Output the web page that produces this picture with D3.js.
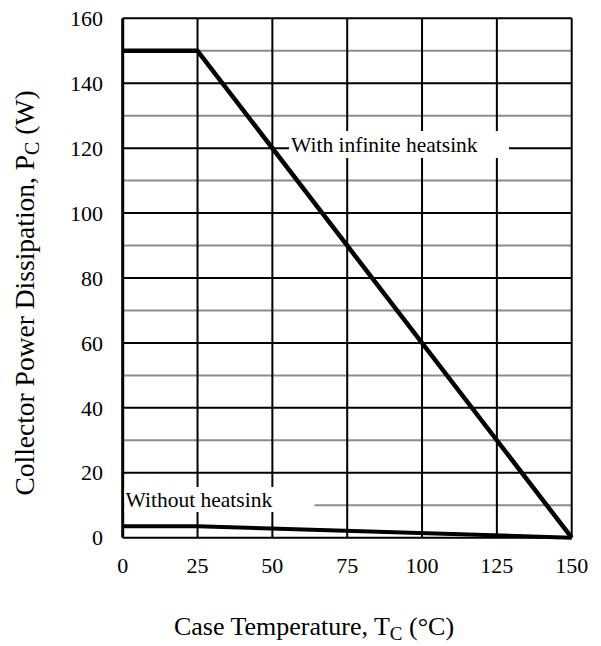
<!DOCTYPE html>
<html><head><meta charset="utf-8">
<script src="https://cdn.jsdelivr.net/npm/d3@7"></script>
<style>body{margin:0;background:#fff}text{font-family:"Liberation Serif","Times New Roman",serif;fill:#000}</style>
</head><body>
<svg id="c" width="601" height="646"></svg>
<script>
const xTicks = [0, 25, 50, 75, 100, 125, 150];
const yTicks = [0, 20, 40, 60, 80, 100, 120, 140, 160];
const yMinor = [10, 30, 50, 70, 90, 110, 130, 150];
const withSinkT = [0, 25, 150];
const withSinkP = [150, 150, 0];
const withoutSinkT = [0, 25, 150];
const withoutSinkP = [3.5, 3.5, 0];

const svg = d3.select("#c");
const x = d3.scaleLinear().domain([0,150]).range([122.7,571.7]);
const y = d3.scaleLinear().domain([0,160]).range([537.7,18.3]);
const g = svg.append("g");

g.selectAll(".mn").data(yMinor).join("line")
 .attr("x1",x(0)).attr("x2",x(150)).attr("y1",d=>y(d)).attr("y2",d=>y(d))
 .attr("stroke","#8c8c8c").attr("stroke-width",2);
g.selectAll(".mj").data(yTicks).join("line")
 .attr("x1",x(0)).attr("x2",x(150)).attr("y1",d=>y(d)).attr("y2",d=>y(d))
 .attr("stroke","#000").attr("stroke-width",2);
g.selectAll(".vt").data(xTicks).join("line")
 .attr("x1",d=>x(d)).attr("x2",d=>x(d)).attr("y1",y(0)).attr("y2",y(160))
 .attr("stroke","#000").attr("stroke-width",d=>d===0?3:2);

g.append("rect").attr("x",289).attr("y",131).attr("width",220).attr("height",27).attr("fill","#fff");
g.append("rect").attr("x",124.5).attr("y",487).attr("width",190).attr("height",25).attr("fill","#fff");

const line = d3.line().x(d=>x(d[0])).y(d=>y(d[1]));
g.append("path").datum(withSinkT.map((t,i)=>[t,withSinkP[i]])).attr("d",line)
 .attr("fill","none").attr("stroke","#000").attr("stroke-width",4.5).attr("stroke-linejoin","round");
g.append("path").datum(withoutSinkT.map((t,i)=>[t,withoutSinkP[i]])).attr("d",line)
 .attr("fill","none").attr("stroke","#000").attr("stroke-width",4).attr("stroke-linejoin","round");

g.append("text").attr("x",291).attr("y",152).attr("font-size",21.5).text("With infinite heatsink");
g.append("text").attr("x",125.5).attr("y",506.5).attr("font-size",21.5).text("Without heatsink");

g.selectAll(".yl").data(yTicks).join("text")
 .attr("x",103).attr("y",d=>y(d)).attr("dy","0.35em").attr("text-anchor","end").attr("font-size",22).text(d=>d);
g.selectAll(".xl").data(xTicks).join("text")
 .attr("x",d=>x(d)).attr("y",573).attr("text-anchor","middle").attr("font-size",22).text(d=>d);

const xt = svg.append("text").attr("x",314).attr("y",635).attr("text-anchor","middle").attr("font-size",26);
xt.append("tspan").text("Case Temperature, T");
xt.append("tspan").attr("font-size",19).attr("dy",5).text("C");
xt.append("tspan").attr("dy",-5).text(" (\u00B0C)");

const yt = svg.append("text").attr("transform","translate(34,293) rotate(-90)").attr("text-anchor","middle").attr("font-size",27.5);
yt.append("tspan").text("Collector Power Dissipation, P");
yt.append("tspan").attr("font-size",20).attr("dy",5).text("C");
yt.append("tspan").attr("dy",-5).text(" (W)");
</script>
</body></html>
